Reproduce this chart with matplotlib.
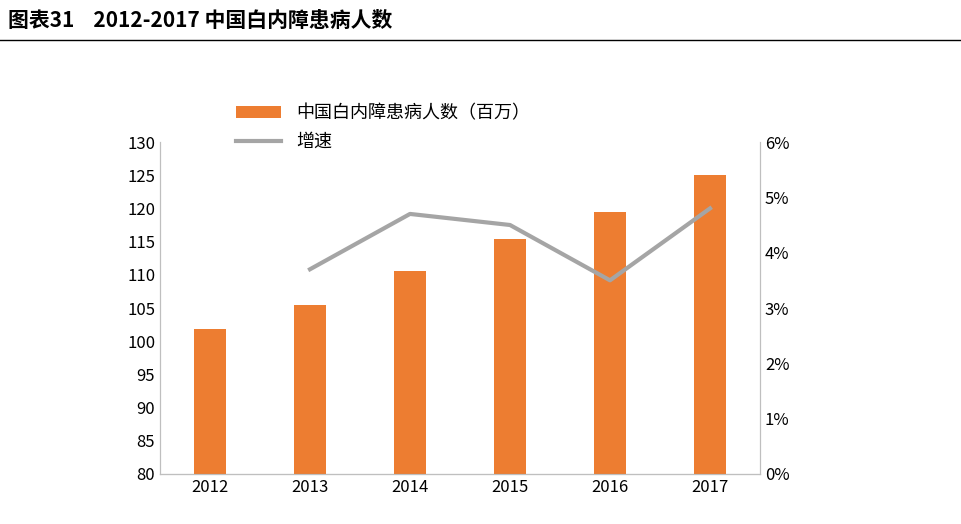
import matplotlib.pyplot as plt
from matplotlib.ticker import FuncFormatter

plt.rcParams['font.family'] = ['Noto Sans CJK SC']

years = ['2012', '2013', '2014', '2015', '2016', '2017']
patients = [101.9, 105.5, 110.5, 115.4, 119.4, 125.1]  # 百万
growth = [None, 3.7, 4.7, 4.5, 3.5, 4.8]  # %

fig = plt.figure(figsize=(9.62, 5.24), dpi=100)
ax = fig.add_axes([160 / 962, 50 / 524, 600 / 962, 332 / 524])

x = list(range(len(years)))
ax.bar(x, [p - 80 for p in patients], bottom=80, width=0.32, color='#ED7D31',
       label='中国白内障患病人数（百万）')
ax.set_ylim(80, 130)
ax.set_yticks(range(80, 131, 5))
ax.set_xlim(-0.5, 5.5)
ax.set_xticks(x)
ax.set_xticklabels(years)
ax.tick_params(length=0, labelsize=12)

ax2 = ax.twinx()
gx = [i for i, g in zip(x, growth) if g is not None]
gy = [g for g in growth if g is not None]
ax2.plot(gx, gy, color='#A5A5A5', linewidth=3, label='增速')
ax2.set_ylim(0, 6)
ax2.set_yticks(range(0, 7))
ax2.yaxis.set_major_formatter(FuncFormatter(lambda v, p: f'{int(v)}%'))
ax2.tick_params(length=0, labelsize=12)

for a in (ax, ax2):
    a.spines['top'].set_visible(False)
    for s in ('left', 'right', 'bottom'):
        a.spines[s].set_color('#BFBFBF')
ax.spines['bottom'].set_color('#808080')

h1, l1 = ax.get_legend_handles_labels()
h2, l2 = ax2.get_legend_handles_labels()
fig.legend(h1 + h2, l1 + l2, loc='upper left', bbox_to_anchor=(220 / 962, 1 - 88 / 524),
           frameon=False, fontsize=13, handlelength=2.5, labelspacing=0.6)

fig.text(8 / 962, 1 - 20 / 524, '图表31    2012-2017 中国白内障患病人数', fontsize=15,
         fontweight='bold', va='center')
fig.add_artist(plt.Line2D([0, 1], [1 - 40 / 524] * 2, color='black', linewidth=1))

fig.savefig('out.png', dpi=100)
